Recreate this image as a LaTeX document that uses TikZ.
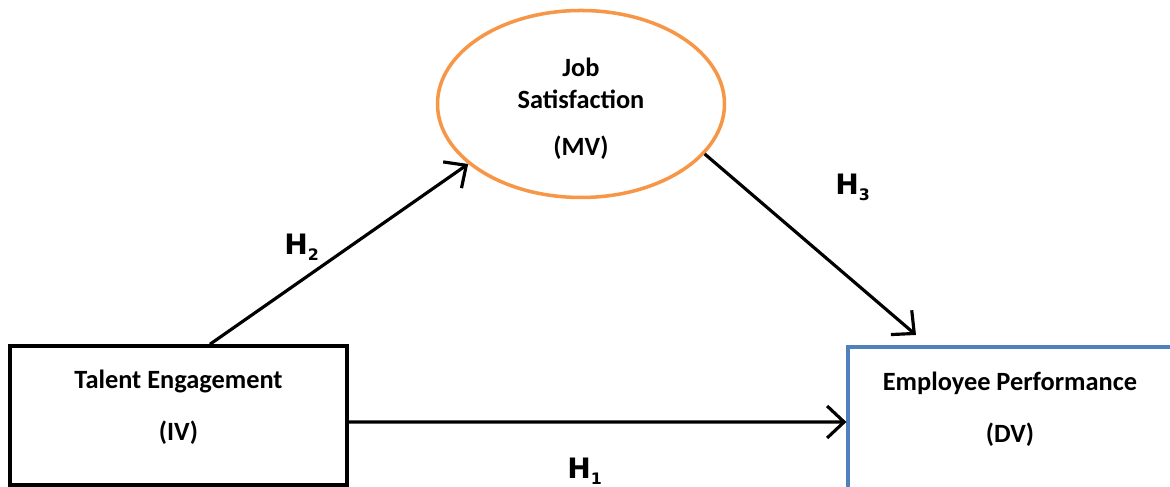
\documentclass[tikz,border=0pt]{standalone}
\usepackage{fontspec}
\setmainfont{Carlito}
\newfontfamily\hypfont{DejaVu Sans}
\usepackage{tikz}
\usetikzlibrary{positioning,shapes.geometric,arrows.meta}
\usepackage{xcolor}
\definecolor{mvorange}{HTML}{F79646}
\definecolor{dvblue}{HTML}{4F81BD}

\begin{document}
\begin{tikzpicture}[
    varbox/.style={draw,line width=2pt,align=center,text depth=11.75pt,font=\fontsize{15}{29.6}\selectfont\bfseries},
    hyp/.style={inner sep=0pt,anchor=base west,font=\hypfont\bfseries\fontsize{16}{16}\selectfont},
    link/.style={line width=1.8pt,-{Straight Barb[length=3.4mm,width=6.4mm,line width=1.8pt]}}
  ]
  \useasboundingbox (0,0) rectangle (23.4,9.74);

  \node[varbox,minimum width=6.74cm,minimum height=2.78cm] (TaEn) at (3.57,1.43) {Talent Engagement\\(IV)};
  \node[varbox,draw=dvblue,line width=1.8pt,minimum width=6.48cm,minimum height=2.84cm] (EmPe) at (20.2,1.38) {Employee Performance\\(DV)};
  \node[varbox,draw=mvorange,ellipse,inner sep=0pt,text depth=0pt,minimum width=5.74cm,minimum height=3.74cm,
        font=\fontsize{15}{18}\selectfont\bfseries] (JoSa) at (11.62,7.66) {\rule{0pt}{14pt}Job\\Satisfaction\\[9pt](MV)};

  % %paths
  \draw[link] ([xshift=0.63cm]TaEn.north) to (JoSa.208.7);
  \draw[link,shorten >=3pt] (JoSa.-22.3) to ([xshift=-1.8cm,yshift=0.14cm]EmPe.north);
  \draw[link] ([yshift=-0.13cm]TaEn.east) to ([yshift=-0.08cm]EmPe.west);

  \node[hyp] (HTwo) at (5.68,4.64) {H{\fontsize{9}{9}\selectfont\raisebox{-3pt}{2}}};
  \node[hyp] (HThree) at (16.70,5.84) {H{\fontsize{9}{9}\selectfont\raisebox{-3pt}{3}}};
  \node[hyp] (HOne) at (11.34,0.16) {H{\fontsize{9}{9}\selectfont\raisebox{-3pt}{1}}};

\end{tikzpicture}
\end{document}
